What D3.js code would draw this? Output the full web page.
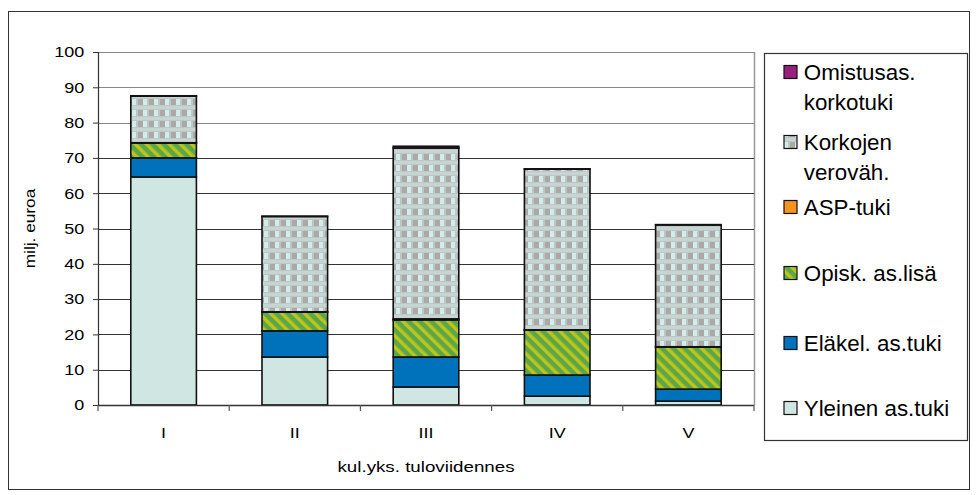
<!DOCTYPE html>
<html>
<head>
<meta charset="utf-8">
<script src="https://cdn.jsdelivr.net/npm/d3@7"></script>
<style>
  body { margin: 0; background: #fff; }
  text { font-family: "Liberation Sans", Arial, sans-serif; fill: #000; }
</style>
</head>
<body>
<svg id="chart"></svg>
<script>
var width = 978;
var height = 495;

// data (milj. euroa)
var categories = ["I", "II", "III", "IV", "V"];
var yleinen = [64.6, 13.6, 5.1, 2.5, 1.1];
var elakel = [5.4, 7.4, 8.5, 6.0, 3.4];
var opisk = [4.2, 5.3, 10.5, 12.7, 11.9];
var asp = [0.1, 0.1, 0.3, 0.1, 0.1];
var korkojen = [13.2, 27.0, 48.4, 45.5, 34.5];
var omistus = [0.1, 0.1, 0.5, 0.1, 0.1];
var yTicks = [0, 10, 20, 30, 40, 50, 60, 70, 80, 90, 100];

var legendLabels = [["Omistusas.", "korkotuki"], ["Korkojen", "veroväh."], ["ASP-tuki"], ["Opisk. as.lisä"], ["Eläkel. as.tuki"], ["Yleinen as.tuki"]];

var margin = {left: 98, right: 224, top: 52, bottom: 90};

var svg = d3.select("#chart").attr("width", width).attr("height", height);

// outer frame
svg.append("rect").attr("x", 8.5).attr("y", 11.5).attr("width", 961).attr("height", 478)
    .attr("fill", "#fff").attr("stroke", "#333").attr("stroke-width", 1);

var defs = svg.append("defs");

// diagonal green/yellow stripes
var stripes = defs.append("pattern").attr("id", "stripes")
    .attr("patternUnits", "userSpaceOnUse").attr("width", 8).attr("height", 8)
    .attr("patternTransform", "rotate(-45)");
stripes.append("rect").attr("width", 8).attr("height", 8).attr("fill", "#5ba54a");
stripes.append("rect").attr("x", 0).attr("width", 3.5).attr("height", 8).attr("fill", "#bcc61a");

// checker pattern for the tax deduction series
var check = defs.append("pattern").attr("id", "check")
    .attr("patternUnits", "userSpaceOnUse").attr("width", 11).attr("height", 11);
check.append("rect").attr("width", 11).attr("height", 11).attr("fill", "#bdc7c5");
check.append("rect").attr("x", 0).attr("y", 0).attr("width", 4).attr("height", 6).attr("fill", "#d2eceb");
check.append("rect").attr("x", 6).attr("y", 0).attr("width", 5).attr("height", 6).attr("fill", "#aba8a6");
check.append("rect").attr("x", 0).attr("y", 7).attr("width", 11).attr("height", 3).attr("fill", "#c6d4d2");
check.append("rect").attr("x", 4).attr("y", 1).attr("width", 2).attr("height", 4).attr("fill", "#b9c6c4");

var fills = ["#cfe6e3", "#0071bb", "url(#stripes)", "#f7941d", "url(#check)", "#98207f"];

var x = d3.scaleBand().domain(categories)
    .range([margin.left, width - margin.right]).paddingInner(0.5).paddingOuter(0.25);
var y = d3.scaleLinear().domain([0, 100]).range([height - margin.bottom, margin.top]);

var plotRight = width - margin.right;
var band = (plotRight - margin.left) / categories.length;

// plot area right edge
svg.append("line").attr("x1", plotRight + 0.5).attr("x2", plotRight + 0.5)
    .attr("y1", y(100)).attr("y2", y(0)).attr("stroke", "#999").attr("stroke-width", 1.5);

// gridlines
svg.append("g").selectAll("line").data(yTicks.slice(1)).enter().append("line")
    .attr("x1", margin.left).attr("x2", plotRight)
    .attr("y1", function(d) { return Math.round(y(d)) + 0.5; })
    .attr("y2", function(d) { return Math.round(y(d)) + 0.5; })
    .attr("stroke", function(d) { return d == 100 || d == 90 || d == 80 ? "#888" : "#333"; })
    .attr("stroke-width", 1.2);

// stacked bars
var table = categories.map(function(c, i) {
    return {cat: c, s0: yleinen[i], s1: elakel[i], s2: opisk[i], s3: asp[i], s4: korkojen[i], s5: omistus[i]};
});
var stack = d3.stack().keys(["s0", "s1", "s2", "s3", "s4", "s5"]);
var layers = stack(table);

svg.append("g").selectAll("g").data(layers).enter().append("g")
    .attr("fill", function(d, i) { return fills[i]; })
    .selectAll("rect").data(function(d) { return d; }).enter().append("rect")
    .attr("x", function(d) { return x(d.data.cat); })
    .attr("width", x.bandwidth())
    .attr("y", function(d) { return y(d[1]); })
    .attr("height", function(d) { return y(d[0]) - y(d[1]); })
    .attr("stroke", "#111").attr("stroke-width", 1.6);

// y axis (labels a bit wider than tall, like the original)
var yAxis = svg.append("g").attr("transform", "translate(" + margin.left + ",0)")
    .call(d3.axisLeft(y).tickValues(yTicks).tickSize(5).tickPadding(7));
yAxis.select(".domain").attr("stroke", "#333").attr("stroke-width", 1.2);
yAxis.selectAll(".tick line").attr("stroke", "#333");
yAxis.selectAll("text").style("font-size", "15px")
    .attr("x", -11.5).attr("transform", "scale(1.2,1)");

// x axis baseline + boundary ticks
svg.append("line").attr("x1", margin.left).attr("x2", plotRight)
    .attr("y1", y(0) + 0.5).attr("y2", y(0) + 0.5).attr("stroke", "#333").attr("stroke-width", 1.5);
svg.append("g").selectAll("line").data(d3.range(categories.length + 1)).enter().append("line")
    .attr("x1", function(i) { return margin.left + i * band; })
    .attr("x2", function(i) { return margin.left + i * band; })
    .attr("y1", y(0)).attr("y2", y(0) + 6).attr("stroke", "#555").attr("stroke-width", 1.2);
svg.append("g").selectAll("text").data(categories).enter().append("text")
    .attr("transform", function(d) { return "translate(" + (x(d) + x.bandwidth() / 2) + "," + (y(0) + 33) + ") scale(1.2,1)"; })
    .attr("text-anchor", "middle").style("font-size", "15px")
    .text(function(d) { return d; });

// axis titles
svg.append("text").attr("transform", "translate(35," + ((y(0) + y(100)) / 2) + ") rotate(-90) scale(1.15,1)")
    .attr("text-anchor", "middle").style("font-size", "15px").text("milj. euroa");
svg.append("text").attr("transform", "translate(" + ((margin.left + plotRight) / 2) + ",472) scale(1.25,1)")
    .attr("text-anchor", "middle").style("font-size", "15px").text("kul.yks. tuloviidennes");

// legend
svg.append("rect").attr("x", 764.5).attr("y", 53.5).attr("width", 203).attr("height", 387)
    .attr("fill", "#fff").attr("stroke", "#333").attr("stroke-width", 1.2);
var legendY = [72, 142, 207, 273, 343, 408];
var legendFills = [fills[5], fills[4], fills[3], fills[2], fills[1], fills[0]];
var leg = svg.append("g").selectAll("g").data(legendLabels).enter().append("g")
    .attr("transform", function(d, i) { return "translate(784," + legendY[i] + ")"; });
leg.append("rect").attr("x", 0).attr("y", -6.5).attr("width", 13).attr("height", 13)
    .attr("fill", function(d, i) { return legendFills[i]; })
    .attr("stroke", "#111").attr("stroke-width", 1.2);
leg.selectAll("text").data(function(d) { return d; }).enter().append("text")
    .attr("x", 19).attr("y", function(d, j) { return j * 31 + 7.5; })
    .attr("transform", "scale(1.04,1)")
    .style("font-size", "21.5px").text(function(d) { return d; });
</script>
</body>
</html>
